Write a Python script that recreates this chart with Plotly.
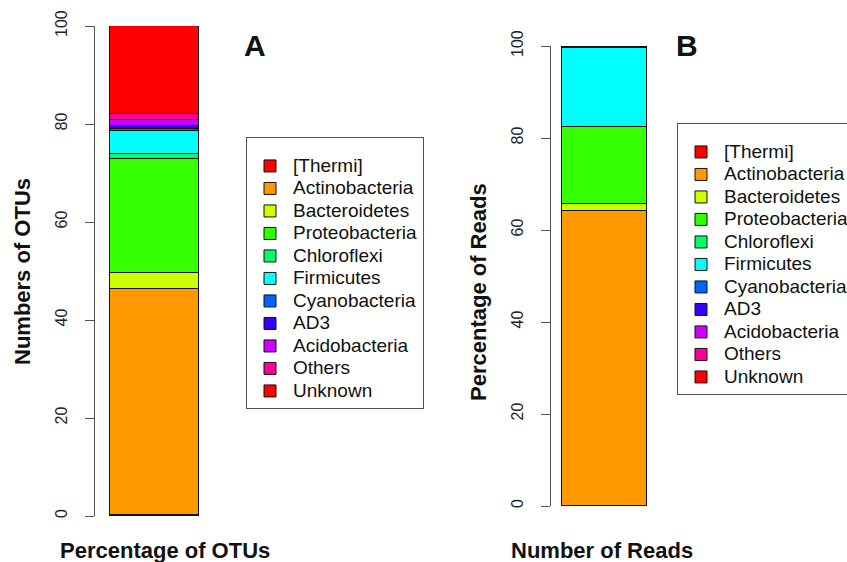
import plotly.graph_objects as go

# ---- data ----
phyla = ["[Thermi]", "Actinobacteria", "Bacteroidetes", "Proteobacteria", "Chloroflexi",
         "Firmicutes", "Cyanobacteria", "AD3", "Acidobacteria", "Others", "Unknown"]
otu_pct = [0.3, 46.0, 3.3, 23.3, 1.0, 4.7, 0.4, 0.6, 1.2, 1.2, 18.0]
read_pct = [0.1, 64.0, 1.6, 16.6, 0.1, 17.1, 0.05, 0.05, 0.1, 0.1, 0.2]
y_ticks = [0, 20, 40, 60, 80, 100]

# ---- style ----
colors = ["#FF0000", "#FF9900", "#CCFF00", "#33FF00", "#00FF66", "#00FFFF",
          "#0066FF", "#3300FF", "#CC00FF", "#FF0099", "#FF0000"]
FONT = "Liberation Sans, Arial, Helvetica, sans-serif"
W, H = 847, 562

def px_x(p):
    return p / W

def px_y(p):
    return 1 - p / H

def legend_label(name):
    return '<span style="font-size:19px">' + name + '</span>'

fig = go.Figure()
for i, name in enumerate(phyla):
    fig.add_trace(go.Bar(x=[0], y=[otu_pct[i]], name=legend_label(name), xaxis="x", yaxis="y",
                         width=0.89, legend="legend",
                         marker=dict(color=colors[i], line=dict(color="#111", width=1))))
for i, name in enumerate(phyla):
    fig.add_trace(go.Bar(x=[0], y=[read_pct[i]], name=legend_label(name), xaxis="x2", yaxis="y2",
                         width=0.85, legend="legend2",
                         marker=dict(color=colors[i], line=dict(color="#111", width=1))))

yax = dict(range=[0, 100], tickvals=y_ticks, showline=True, linecolor="#555", linewidth=1,
           ticks="outside", ticklen=9, tickcolor="#555", tickangle=-90, showgrid=False,
           zeroline=False, tickfont=dict(size=16, color="#222", family=FONT),
           ticklabelstandoff=12)

legend_common = dict(xanchor="left", yanchor="top", bordercolor="#555", borderwidth=1,
                     bgcolor="white", traceorder="normal", itemwidth=36,
                     title=dict(text=" ", font=dict(size=9)),
                     font=dict(size=15, color="#111", family=FONT))

def ann(text, x, y, size, angle=0):
    return dict(text=text, x=px_x(x), y=px_y(y), xref="paper", yref="paper",
                xanchor="center", yanchor="middle", showarrow=False, textangle=angle,
                font=dict(size=size, color="#111", family=FONT))

fig.update_layout(
    width=W, height=H,
    margin=dict(l=0, r=0, t=0, b=0, autoexpand=False),
    paper_bgcolor="white", plot_bgcolor="white",
    barmode="stack", bargap=0,
    font=dict(family=FONT),
    xaxis=dict(domain=[px_x(95), px_x(214)], range=[-0.595, 0.595], visible=False),
    yaxis=dict(domain=[px_y(516), px_y(26)], anchor="x", **yax),
    xaxis2=dict(domain=[px_x(551), px_x(670)], range=[-0.535, 0.655], visible=False),
    yaxis2=dict(domain=[px_y(506), px_y(46)], anchor="x2", **yax),
    legend=dict(x=px_x(246), y=px_y(137), **legend_common),
    legend2=dict(x=px_x(677), y=px_y(123), **legend_common),
    annotations=[
        ann("<b>A</b>", 255, 46, 30),
        ann("<b>B</b>", 687, 46, 30),
        ann("<b>Numbers of OTUs</b>", 22, 272, 22, -90),
        ann("<b>Percentage of Reads</b>", 478, 292, 22, -90),
        ann("<b>Percentage of OTUs</b>", 165, 550, 22),
        ann("<b>Number of Reads</b>", 602, 550, 22),
    ],
)

fig.write_html("out.html", config={"displayModeBar": False},
               post_script="document.body.style.margin='0';")
